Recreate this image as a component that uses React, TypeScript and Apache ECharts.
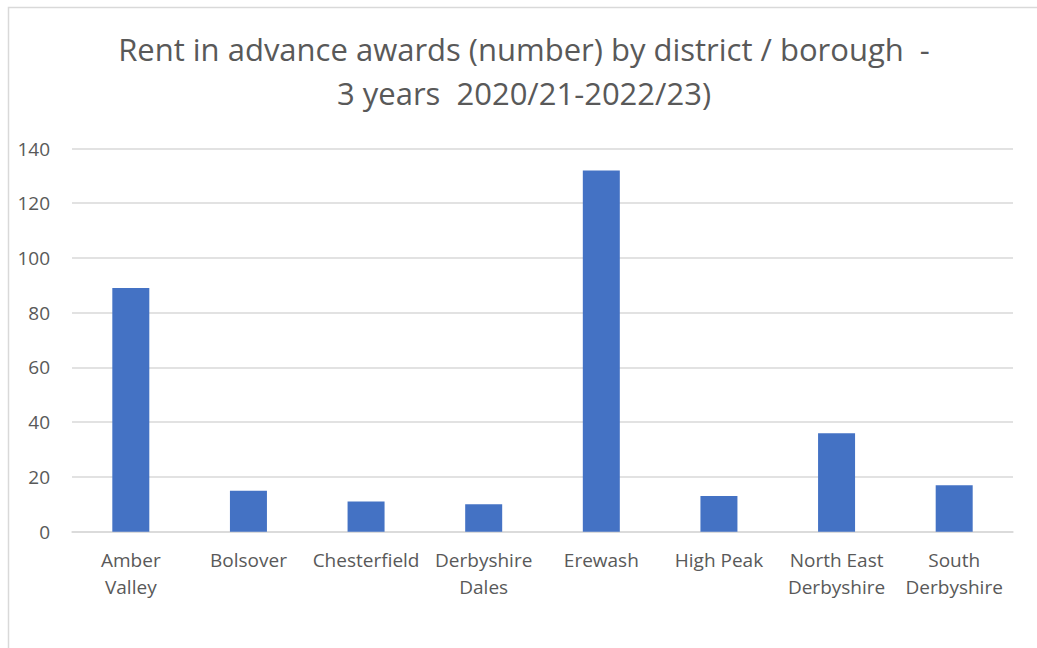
import React, { useEffect, useRef } from "react";
import * as echarts from "echarts";

const categories = [
  "Amber\nValley",
  "Bolsover",
  "Chesterfield",
  "Derbyshire\nDales",
  "Erewash",
  "High Peak",
  "North East\nDerbyshire",
  "South\nDerbyshire",
];
const awards = [89, 15, 11, 10, 132, 13, 36, 17];
const titleLines = [
  "Rent in advance awards (number) by district / borough  -",
  "3 years  2020/21-2022/23)",
];

export default function App() {
  const ref = useRef<HTMLDivElement>(null);
  useEffect(() => {
    if (!ref.current) return;
    const chart = echarts.init(ref.current, null, { renderer: "svg" });
    const font = "'Open Sans', Lato, sans-serif";
    chart.setOption({
      animation: false,
      backgroundColor: "#ffffff",
      title: {
        text: titleLines.join("\n"),
        left: 519,
        top: 22,
        textAlign: "center",
        textStyle: {
          fontFamily: font,
          fontSize: 31,
          fontWeight: "normal",
          color: "#595959",
          lineHeight: 44,
        },
      },
      graphic: [
        {
          type: "rect",
          shape: { x: 8.5, y: 7.5, width: 1100, height: 700 },
          style: { fill: "none", stroke: "#d9d9d9", lineWidth: 1.5 },
          silent: true,
          z: -1,
        },
      ],
      grid: { left: 72, right: 24, top: 148.5, bottom: 116.3, containLabel: false },
      xAxis: {
        type: "category",
        data: categories,
        axisLine: { show: true, lineStyle: { color: "#d9d9d9", width: 1.5 } },
        axisTick: { show: false },
        axisLabel: {
          fontFamily: font,
          fontSize: 19,
          color: "#595959",
          lineHeight: 27,
          margin: 15,
          interval: 0,
        },
      },
      yAxis: {
        type: "value",
        min: 0,
        max: 140,
        interval: 20,
        axisLine: { show: false },
        axisTick: { show: false },
        splitLine: { lineStyle: { color: "#d9d9d9", width: 1.5 } },
        axisLabel: {
          fontFamily: font,
          fontSize: 19,
          color: "#595959",
          margin: 22,
        },
      },
      series: [
        {
          type: "bar",
          data: awards,
          barWidth: 37,
          itemStyle: { color: "#4472c4" },
        },
      ],
    });
    return () => chart.dispose();
  }, []);
  return (
    <div
      ref={ref}
      style={{ position: "absolute", left: 0, top: 0, width: 1037, height: 648 }}
    />
  );
}
